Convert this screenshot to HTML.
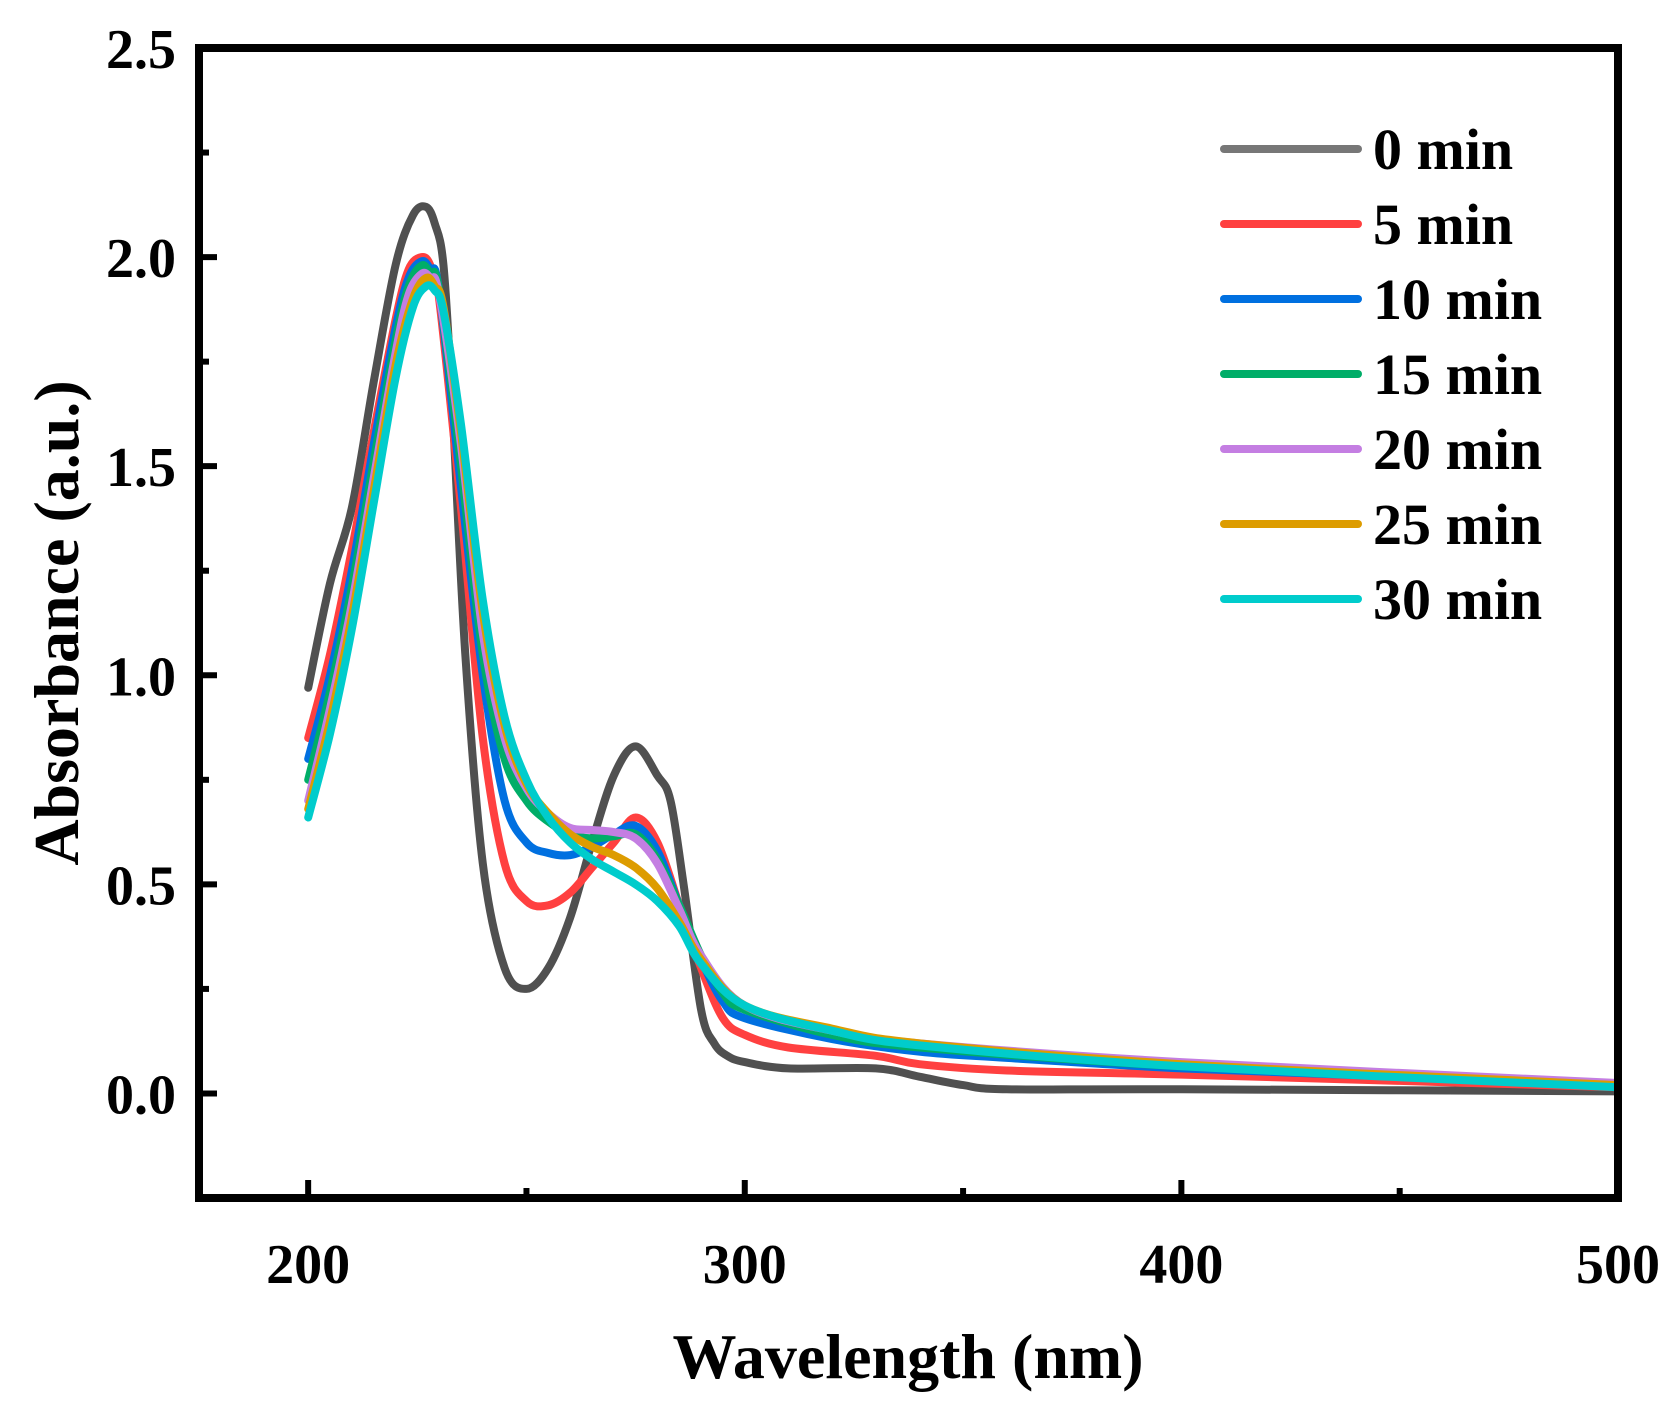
<!DOCTYPE html>
<html><head><meta charset="utf-8"><style>
html,body{margin:0;padding:0;background:#fff}
svg{display:block}
text{font-family:"Liberation Serif",serif;font-weight:bold;fill:#000}
</style></head><body>
<svg id="chart" width="1670" height="1408" viewBox="0 0 1670 1408" xmlns="http://www.w3.org/2000/svg">
<g id="plot"></g>
<g id="axes"></g>
<g id="legend"></g>
<text x="908" y="1378" font-size="64" text-anchor="middle">Wavelength (nm)</text>
<text x="0" y="0" font-size="64" text-anchor="middle" transform="translate(78,623) rotate(-90)">Absorbance (a.u.)</text>
</svg>
<script>
const seriesNames = ["0 min","5 min","10 min","15 min","20 min","25 min","30 min"];
const xTicks = [200,300,400,500];
const yTicks = [0.0,0.5,1.0,1.5,2.0,2.5];
const s0 = [[200,0.97],[205,1.22],[210,1.40],[215,1.70],[220,1.98],[224,2.10],[227,2.12],[229,2.08],[231,1.98],[233,1.65],[236,1.05],[240,0.55],[245,0.30],[250,0.25],[255,0.30],[260,0.42],[265,0.60],[270,0.76],[275,0.83],[280,0.76],[283,0.70],[286,0.50],[290,0.20],[293,0.12],[296,0.09],[300,0.075],[310,0.06],[330,0.06],[340,0.04],[350,0.02],[360,0.01],[400,0.01],[500,0.005]];
const s5 = [[200,0.85],[205,1.05],[210,1.30],[215,1.58],[220,1.85],[223,1.97],[226,2.00],[228,1.98],[230,1.90],[235,1.40],[240,0.85],[245,0.55],[250,0.46],[255,0.45],[260,0.48],[265,0.54],[270,0.60],[275,0.66],[280,0.60],[285,0.45],[290,0.30],[295,0.18],[300,0.14],[310,0.11],[330,0.09],[340,0.07],[360,0.055],[400,0.045],[450,0.03],[500,0.015]];
const s10 = [[200,0.80],[205,1.00],[210,1.25],[215,1.55],[220,1.83],[223,1.95],[226,1.99],[228,1.97],[230,1.92],[235,1.45],[240,1.00],[245,0.70],[250,0.60],[255,0.575],[260,0.57],[265,0.59],[270,0.62],[275,0.64],[280,0.58],[285,0.45],[290,0.32],[295,0.22],[300,0.18],[320,0.13],[340,0.10],[360,0.085],[400,0.06],[450,0.04],[500,0.02]];
const s15 = [[200,0.75],[205,0.96],[210,1.21],[215,1.51],[220,1.80],[223,1.93],[226,1.98],[228,1.96],[230,1.92],[235,1.50],[240,1.05],[245,0.80],[250,0.70],[255,0.65],[260,0.62],[265,0.61],[270,0.615],[275,0.62],[280,0.56],[285,0.45],[290,0.33],[295,0.24],[300,0.20],[320,0.14],[340,0.11],[400,0.065],[500,0.02]];
const s20 = [[200,0.70],[205,0.92],[210,1.17],[215,1.47],[220,1.77],[223,1.91],[226,1.96],[228,1.95],[230,1.91],[235,1.55],[240,1.10],[245,0.85],[250,0.73],[255,0.67],[260,0.635],[265,0.63],[270,0.625],[275,0.61],[280,0.55],[285,0.44],[290,0.33],[300,0.21],[320,0.15],[340,0.12],[400,0.075],[500,0.025]];
const s25 = [[200,0.68],[205,0.89],[210,1.14],[215,1.44],[220,1.74],[224,1.90],[227,1.95],[229,1.93],[231,1.88],[235,1.58],[240,1.15],[245,0.88],[250,0.74],[255,0.67],[260,0.62],[265,0.59],[270,0.57],[275,0.54],[280,0.49],[285,0.41],[290,0.32],[300,0.21],[320,0.155],[340,0.12],[400,0.07],[500,0.02]];
const s30 = [[200,0.66],[205,0.86],[210,1.11],[215,1.41],[220,1.71],[224,1.88],[227,1.93],[229,1.92],[231,1.87],[235,1.60],[240,1.18],[245,0.90],[250,0.75],[255,0.66],[260,0.60],[265,0.56],[270,0.53],[275,0.50],[280,0.46],[285,0.40],[290,0.31],[300,0.21],[320,0.15],[340,0.115],[400,0.065],[500,0.015]];
const allSeries = [s0,s5,s10,s15,s20,s25,s30];
const colors = ["#505050","#ff4040","#0070e0","#00ad68","#c47ee2","#dd9c00","#00cccc"];
const legendColors = ["#777777","#ff4040","#0070e0","#00ad68","#c47ee2","#dd9c00","#00cccc"];

const L=199,R=1618,T=48,B=1198, X0=175,X1=500, Y0=-0.25,Y1=2.5;
const sx=v=>L+(v-X0)/(X1-X0)*(R-L);
const sy=v=>B-(v-Y0)/(Y1-Y0)*(B-T);
const NS="http://www.w3.org/2000/svg";
function mk(tag,attrs,parent){const e=document.createElementNS(NS,tag);for(const k in attrs)e.setAttribute(k,attrs[k]);parent.appendChild(e);return e;}
function pathFor(pts){
  const p=pts.map(d=>[sx(d[0]),sy(d[1])]);
  let s="M"+p[0][0].toFixed(1)+","+p[0][1].toFixed(1);
  for(let i=0;i<p.length-1;i++){
    const a=p[Math.max(0,i-1)],b=p[i],c=p[i+1],d=p[Math.min(p.length-1,i+2)];
    const c1=[b[0]+(c[0]-a[0])/6,b[1]+(c[1]-a[1])/6],c2=[c[0]-(d[0]-b[0])/6,c[1]-(d[1]-b[1])/6];
    s+=" C"+c1.map(v=>v.toFixed(1))+" "+c2.map(v=>v.toFixed(1))+" "+c[0].toFixed(1)+","+c[1].toFixed(1);
  }
  return s;
}
const plot=document.getElementById('plot');
const cp=mk('clipPath',{id:'clip'},plot);
mk('rect',{x:L,y:T,width:R-L,height:B-T},cp);
allSeries.forEach((s,i)=>{
  const e=mk('path',{d:pathFor(s),fill:'none',stroke:colors[i],'stroke-width':8,'stroke-linejoin':'round','stroke-linecap':'round','clip-path':'url(#clip)'},plot);
  
  
});
const ax=document.getElementById('axes');
const fr=mk('rect',{x:L,y:T,width:R-L,height:B-T,fill:'none',stroke:'#000','stroke-width':8},ax);


for(let v=200;v<=500;v+=50){
  const major=v%100===0;
  const t=mk('line',{x1:sx(v),x2:sx(v),y1:B,y2:B-(major?18:10),stroke:'#000','stroke-width':6},ax);
  
  
}
xTicks.forEach(v=>{
  const t=mk('text',{x:sx(v),y:1283,'font-size':56,'text-anchor':'middle'},ax);t.textContent=v;
  
  
});
for(let k=-1;k<=10;k++){
  const v=k*0.25; if(v<Y0||v>=Y1)continue;
  const major=k%2===0;
  const t=mk('line',{x1:L,x2:L+(major?18:10),y1:sy(v),y2:sy(v),stroke:'#000','stroke-width':6},ax);
  
  
}
yTicks.forEach(v=>{
  const t=mk('text',{x:176,y:sy(v)+20,'font-size':56,'text-anchor':'end'},ax);t.textContent=v.toFixed(1);
  
  
});
const lg=document.getElementById('legend');
seriesNames.forEach((n,i)=>{
  const y=149+i*75;
  const g=mk('g',{},lg);
  
  
  mk('line',{x1:1224,x2:1358,y1:y,y2:y,stroke:legendColors[i],'stroke-width':8,'stroke-linecap':'round'},g);
  const t=mk('text',{x:1373,y:y+20,'font-size':58},g);t.textContent=n;
});
</script>
</body></html>
